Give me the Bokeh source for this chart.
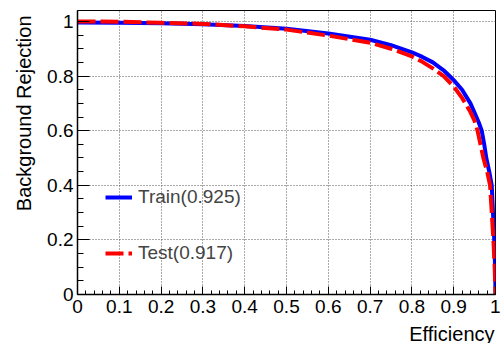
from bokeh.plotting import figure
from bokeh.models import (Range1d, SingleIntervalTicker, CustomJSTickFormatter,
                          Legend, LegendItem, Title)
from bokeh.embed import file_html
from bokeh.resources import INLINE

# ROC curve data
eff_train = [0.0, 0.1, 0.2, 0.3, 0.4, 0.5, 0.6, 0.7, 0.75, 0.8, 0.825, 0.85, 0.875,
             0.89, 0.9, 0.92, 0.94, 0.95, 0.96, 0.967, 0.973, 0.978, 0.985, 0.991,
             0.994, 0.997, 0.999, 1.0]
rej_train = [0.996, 0.995, 0.993, 0.990, 0.983, 0.973, 0.956, 0.933, 0.913, 0.887,
             0.870, 0.850, 0.822, 0.800, 0.785, 0.750, 0.700, 0.665, 0.630, 0.600,
             0.550, 0.500, 0.450, 0.400, 0.300, 0.200, 0.100, 0.0]

eff_test = [0.0, 0.1, 0.2, 0.3, 0.4, 0.5, 0.6, 0.7, 0.75, 0.8, 0.825, 0.85, 0.876,
            0.9, 0.92, 0.94, 0.95, 0.957, 0.964, 0.971, 0.98, 0.987, 0.991, 0.995,
            0.998, 1.0]
rej_test = [1.0, 0.999, 0.995, 0.991, 0.982, 0.970, 0.948, 0.922, 0.900, 0.872,
            0.852, 0.828, 0.800, 0.762, 0.720, 0.668, 0.636, 0.600, 0.550, 0.500,
            0.450, 0.400, 0.300, 0.200, 0.100, 0.0]

label_train = "Train(0.925)"
label_test = "Test(0.917)"
x_title = "Efficiency"
y_title = "Background Rejection"

FONT = "Liberation Sans"

p = figure(width=500, height=343, frame_width=418, frame_height=284,
           min_border_left=77, min_border_right=5, min_border_top=10, min_border_bottom=49,
           x_range=Range1d(0, 1), y_range=Range1d(0, 1.04),
           output_backend="svg", toolbar_location=None, title=None)
p.background_fill_color = "white"
p.border_fill_color = "white"
p.outline_line_color = "black"
p.outline_line_width = 1

fmt = CustomJSTickFormatter(code="return String(Number(tick.toFixed(3)));")

xa = p.xaxis[0]
xa.ticker = SingleIntervalTicker(interval=0.1, num_minor_ticks=5)
xa.formatter = fmt
ya = p.yaxis[0]
ya.ticker = SingleIntervalTicker(interval=0.2, num_minor_ticks=4)
ya.formatter = fmt

for ax, maj, mnr in ((xa, 8, 4), (ya, 12, 6)):
    ax.major_tick_in = maj
    ax.major_tick_out = 0
    ax.minor_tick_in = mnr
    ax.minor_tick_out = 0
    ax.axis_line_color = "black"
    ax.axis_line_width = 1.5
    ax.major_tick_line_width = 1
    ax.minor_tick_line_width = 1
    ax.major_label_text_font = FONT
    ax.major_label_text_font_size = "19px"
    ax.major_label_text_color = "black"
xa.major_label_standoff = 5
ya.major_label_standoff = 4

xt = Title(text=x_title, align="right", text_font=FONT, text_font_size="20px",
           text_font_style="normal", text_color="black", standoff=10, offset=1)
yt = Title(text=y_title, align="right", vertical_align="top", text_font=FONT,
           text_font_size="20px", text_font_style="normal", text_color="black",
           standoff=16, offset=5)
p.add_layout(xt, "below")
p.add_layout(yt, "left")

for g in (p.xgrid[0], p.ygrid[0]):
    g.grid_line_color = "#555555"
    g.grid_line_dash = "1 2"
    g.grid_line_width = 1

r_train = p.line(eff_train, rej_train, line_color="#0000ff", line_width=4)
r_test = p.line(eff_test, rej_test, line_color="#ff0000", line_width=4, line_dash="18 5")

legend = Legend(items=[LegendItem(label=label_train, renderers=[r_train]),
                       LegendItem(label=label_test, renderers=[r_test])],
                location=(28, 30), orientation="vertical",
                background_fill_alpha=0, border_line_alpha=0,
                padding=0, margin=0, spacing=34, glyph_width=27, glyph_height=20,
                label_standoff=6, label_text_font=FONT, label_text_font_size="19px",
                label_height=20)
p.add_layout(legend, "center")

open("out.html", "w").write(file_html(p, INLINE))
